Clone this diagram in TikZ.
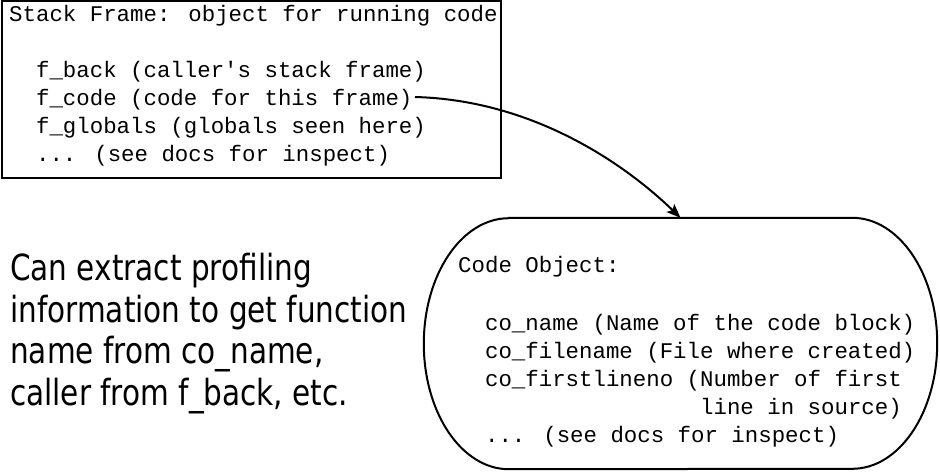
\documentclass[tikz,border=0pt]{standalone}
\usepackage{fontspec}
\usetikzlibrary{arrows.meta}
\newfontfamily\codefont{Liberation Mono}
\newfontfamily\notefont[FakeStretch=0.82]{DejaVu Sans}
\tikzset{
  codeline/.style={anchor=base west, inner sep=0pt, font=\codefont\fontsize{22.4pt}{28pt}\selectfont},
  noteline/.style={anchor=base west, inner sep=0pt, font=\notefont\fontsize{36pt}{42pt}\selectfont},
  frame/.style={draw, line width=2pt},
  link/.style={line width=2pt, -{Stealth[length=14pt,width=11pt,inset=3pt]}}
}
\begin{document}
\begin{tikzpicture}[x=1pt,y=-1pt]
\useasboundingbox (0,0) rectangle (940,472);
% stack frame box
\node[frame, rectangle, anchor=north west, minimum width=499pt, minimum height=177pt, inner sep=0pt] (sf) at (1,0) {};
\node[codeline] (sf0) at (9,21.7) {Stack Frame: object for running code};
\node[codeline] (sf1) at (9,77.7) {\ \ f\_back (caller\textquotesingle s stack frame)};
\node[codeline] (sf2) at (9,105.7) {\ \ f\_code (code for this frame)};
\node[codeline] (sf3) at (9,133.7) {\ \ f\_globals (globals seen here)};
\node[codeline] (sf4) at (9,161.7) {\ \ ... (see docs for inspect)};
\coordinate (fc) at (415,97);
% code object
\node[rectangle, minimum width=513pt, minimum height=251pt, inner sep=0pt] (code) at (680.5,343.5) {};
\draw[line width=2pt] ([xshift=85pt]code.north west) -- ([xshift=-85pt]code.north east)
  arc[start angle=90, end angle=-90, x radius=85pt, y radius=125.5pt]
  -- ([xshift=85pt]code.south west)
  arc[start angle=270, end angle=90, x radius=85pt, y radius=125.5pt] -- cycle;
\node[codeline] (co0) at (458,272.7) {Code Object:};
\node[codeline] (co1) at (458,330) {\ \ co\_name (Name of the code block)};
\node[codeline] (co2) at (458,358) {\ \ co\_filename (File where created)};
\node[codeline] (co3) at (458,386) {\ \ co\_firstlineno (Number of first};
\node[codeline] (co4) at (458,414) {\ \ \ \ \ \ \ \ \ \ \ \ \ \ \ \ \ \ line in source)};
\node[codeline] (co5) at (458,442) {\ \ ... (see docs for inspect)};
% connector
\draw[link] (fc) .. controls +(115,3) and +(-59,-57) .. (code.north);
% note
\node[noteline] (n1) at (10,280) {Can extract profiling};
\node[noteline] (n2) at (10,322) {information to get function};
\node[noteline] (n3) at (10,363) {name from co\_name,};
\node[noteline] (n4) at (10,405) {caller from f\_back, etc.};
\end{tikzpicture}
\end{document}
